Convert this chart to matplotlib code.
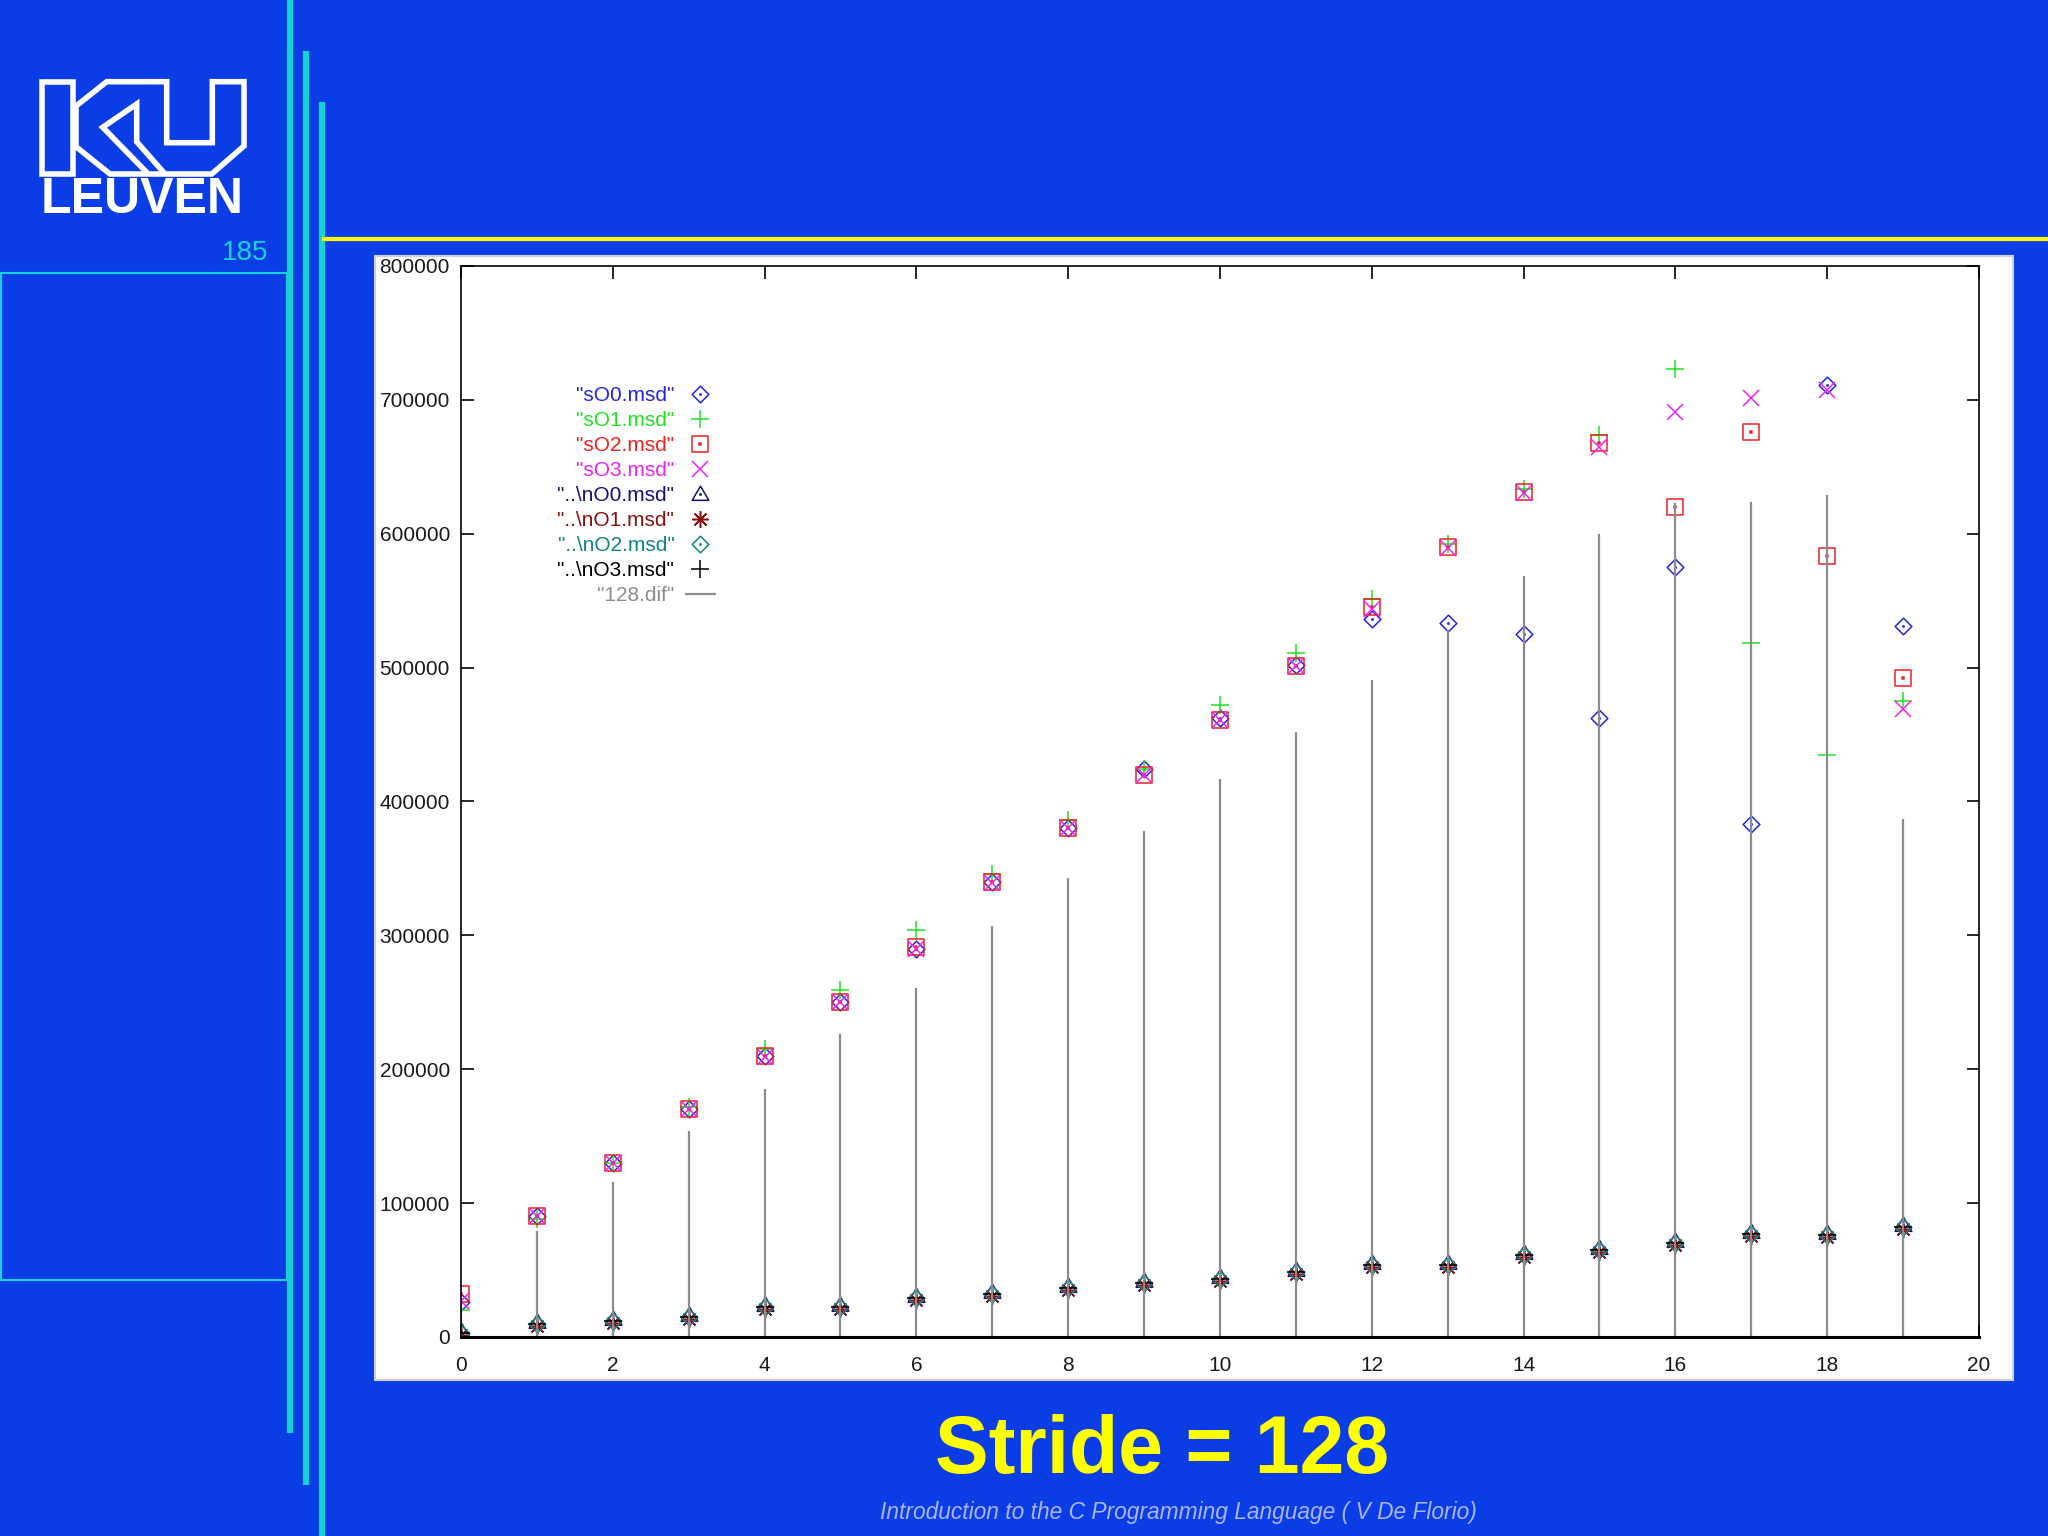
import matplotlib
matplotlib.use("Agg")
import matplotlib.pyplot as plt
import matplotlib.patches as patches
from matplotlib.path import Path
from matplotlib.ticker import StrMethodFormatter

# measurements, stride 128
x = list(range(20))
sO0 = [26000, 90000, 130000, 170000, 210000, 250000, 290000, 340000, 380000, 424000,
       462000, 502000, 536000, 533000, 525000, 462000, 575000, 383000, 711000, 531000]
sO1 = [20000, 88000, 130000, 172000, 215000, 259000, 304000, 346000, 386000, 424000,
       472000, 511000, 551000, 592000, 633000, 674000, 723000, 518000, 435000, 475000]
sO2 = [32000, 90000, 130000, 170000, 210000, 250000, 291000, 340000, 380000, 420000,
       461000, 501000, 545000, 590000, 631000, 668000, 620000, 676000, 583000, 492000]
sO3 = [27000, 90000, 130000, 170000, 209000, 250000, 290000, 339000, 380000, 420000,
       461000, 501000, 544000, 589000, 630000, 665000, 691000, 701000, 707000, 469000]
nO0 = [4500, 11500, 13500, 16500, 24000, 23500, 30500, 33500, 38000, 42000,
       44500, 50000, 55500, 55500, 62500, 66500, 71500, 78500, 78000, 83500]
nO1 = [1500, 8500, 10500, 13500, 21000, 20500, 27500, 30500, 35000, 39000,
       41500, 47000, 52500, 52500, 59500, 63500, 68500, 75500, 75000, 80500]
nO2 = [3000, 10000, 12000, 15000, 22500, 22000, 29000, 32000, 36500, 40500,
       43000, 48500, 54000, 54000, 61000, 65000, 70000, 77000, 76500, 82000]
nO3 = [3000, 10000, 12000, 15000, 22500, 22000, 29000, 32000, 36500, 40500,
       43000, 48500, 54000, 54000, 61000, 65000, 70000, 77000, 76500, 82000]
dif = [29000, 79000, 116000, 154000, 185000, 226000, 261000, 307000, 343000, 378000,
       417000, 452000, 491000, 528000, 568000, 600000, 623000, 624000, 629000, 387000]

labels = ['"sO0.msd"', '"sO1.msd"', '"sO2.msd"', '"sO3.msd"',
          '"..\\nO0.msd"', '"..\\nO1.msd"', '"..\\nO2.msd"', '"..\\nO3.msd"', '"128.dif"']
colors = ['#2424e0', '#22e022', '#ee2020', '#ee22ee',
          '#12127a', '#8a1010', '#108484', '#000000', '#8c8c8c']

BLUE = '#0a3de6'
CYAN = '#16d2d6'
YELLOW = '#ffff00'
FONT = 'Liberation Sans'

# marker shapes (gnuplot-like, with a centre dot)
dot = Path([(-.07, -.07), (.07, -.07), (.07, .07), (-.07, .07), (-.07, -.07)],
           [Path.MOVETO, Path.LINETO, Path.LINETO, Path.LINETO, Path.CLOSEPOLY])
diamond_dot = Path.make_compound_path(Path.unit_regular_polygon(4), dot)
square = Path([(-1, -1), (1, -1), (1, 1), (-1, 1), (-1, -1)],
              [Path.MOVETO, Path.LINETO, Path.LINETO, Path.LINETO, Path.CLOSEPOLY])
square_dot = Path.make_compound_path(square, dot)
tri = Path([(0, 1), (-1, -0.7), (1, -0.7), (0, 1)],
           [Path.MOVETO, Path.LINETO, Path.LINETO, Path.CLOSEPOLY])
tri_dot = Path.make_compound_path(tri, dot)

fig = plt.figure(figsize=(20.48, 15.36), dpi=100)
fig.patch.set_facecolor(BLUE)

# slide background in pixel coords
bg = fig.add_axes([0, 0, 1, 1])
bg.set_xlim(0, 2048)
bg.set_ylim(1536, 0)
bg.axis('off')
bg.add_patch(patches.Rectangle((375, 256), 1638, 1124, facecolor='white',
                               edgecolor='#cfcfcf', lw=1.5))
bg.plot([290, 290], [0, 1433], color=CYAN, lw=4.5, solid_capstyle='butt')
bg.plot([305.5, 305.5], [51, 1485], color=CYAN, lw=4.5, solid_capstyle='butt')
bg.plot([321.5, 321.5], [102, 1536], color=CYAN, lw=4.5, solid_capstyle='butt')
bg.plot([324, 2048], [239, 239], color=YELLOW, lw=3)
bg.add_patch(patches.Rectangle((1, 273), 286, 1007, fill=False, edgecolor=CYAN, lw=1.5))

# KU logo outline
bg.add_patch(patches.Rectangle((41.5, 81.5), 31, 92, fill=False, edgecolor='white', lw=4))
ku = [(76, 106), (106.7, 81.7), (166.7, 81.7), (166.7, 142.7), (212.3, 142.7),
      (212.3, 81.7), (244, 81.7), (244, 146), (211.7, 174), (110, 174), (76, 146.7)]
bg.add_patch(patches.Polygon(ku, closed=True, fill=False, edgecolor='white', lw=4,
                             joinstyle='miter'))
arrow = [(148.3, 174), (102.7, 127.3), (136.7, 104), (136.7, 141.7), (165, 174)]
bg.add_patch(patches.Polygon(arrow, closed=False, fill=False, edgecolor='white', lw=4,
                             joinstyle='miter'))
bg.text(142, 200, 'LEUVEN', color='white', fontsize=36, fontweight='bold',
        family=FONT, ha='center', va='center')
bg.text(268, 260, '185', color=CYAN, fontsize=20, family=FONT, ha='right', va='baseline')

bg.text(1162, 1473, 'Stride = 128', color=YELLOW, fontsize=58, fontweight='bold',
        family=FONT, ha='center', va='baseline')
bg.text(1178, 1512, 'Introduction to the C Programming Language ( V De Florio)',
        color='#aab4ea', fontsize=16.4, style='italic', family=FONT,
        ha='center', va='center')

# the chart
ax = fig.add_axes([0.2251, 0.1296, 0.7412, 0.6973])
ax.set_facecolor('white')

series = [sO0, sO1, sO2, sO3, nO0, nO1, nO2, nO3]
markers = [diamond_dot, '+', square_dot, 'x', tri_dot, (8, 2, 0), diamond_dot, '+']
sizes = [12, 13, 11, 12, 12, 12, 12, 13]
for ys, m, s, c, lab in zip(series, markers, sizes, colors, labels):
    ax.plot(x, ys, ls='none', marker=m, ms=s, mfc='none', mec=c, mew=1.1, label=lab)
ax.vlines(x, 0, dif, color=colors[8], lw=1.6, label=labels[8])

ax.set_xlim(0, 20)
ax.set_ylim(0, 800000)
ax.set_xticks(range(0, 21, 2))
ax.set_yticks(range(0, 800001, 100000))
ax.yaxis.set_major_formatter(StrMethodFormatter('{x:.0f}'))
ax.tick_params(direction='in', length=9, width=1.2, top=True, right=True,
               labelsize=15, labelcolor='#1a1a1a')
ax.tick_params(axis='x', pad=14)
ax.tick_params(axis='y', pad=8)
for lbl in ax.get_xticklabels() + ax.get_yticklabels():
    lbl.set_family(FONT)
for sp in ax.spines.values():
    sp.set_linewidth(1.2)
ax.spines['bottom'].set_linewidth(2.2)

leg = ax.legend(loc='upper right', bbox_to_anchor=(716 / 2048, 1 - 386 / 1536),
                bbox_transform=fig.transFigure, frameon=False, markerfirst=False,
                numpoints=1, handlelength=1.5, handletextpad=0.5, labelspacing=0.29,
                borderpad=0, borderaxespad=0, prop={'family': FONT, 'size': 15})
for t, c in zip(leg.get_texts(), colors):
    t.set_color(c)

fig.savefig('out.png', dpi=100, facecolor=fig.get_facecolor())
